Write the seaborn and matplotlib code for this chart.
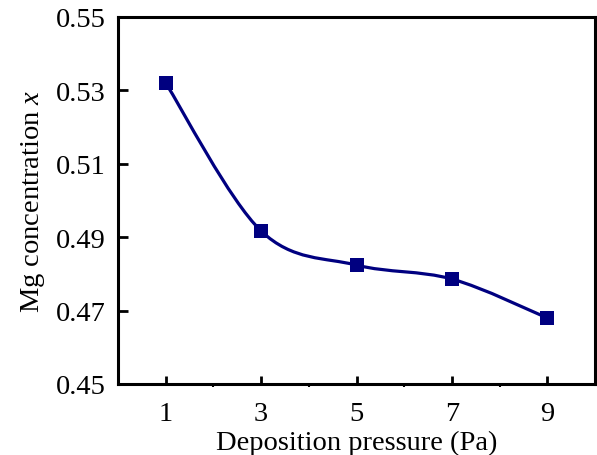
import numpy as np
import pandas as pd
import matplotlib
matplotlib.use("Agg")
import matplotlib.pyplot as plt
from matplotlib.path import Path
from matplotlib.patches import PathPatch
from matplotlib.ticker import FixedLocator
import seaborn as sns

pressure = [1, 3, 5, 7, 9]
mg_conc = [0.532, 0.4917, 0.4824, 0.4786, 0.468]
x_ticks = [1, 3, 5, 7, 9]
y_ticks = [0.45, 0.47, 0.49, 0.51, 0.53, 0.55]

NAVY = "#000080"


def smooth_path(xs, ys):
    # excel-like smoothed line: cubic bezier with catmull-rom control points
    pts = np.column_stack([xs, ys]).astype(float)
    verts = [pts[0]]
    codes = [Path.MOVETO]
    n = len(pts)
    for i in range(n - 1):
        p0 = pts[i - 1] if i > 0 else pts[i]
        p1 = pts[i]
        p2 = pts[i + 1]
        p3 = pts[i + 2] if i + 2 < n else pts[i + 1]
        c1 = p1 + (p2 - p0) / 6.0
        c2 = p2 - (p3 - p1) / 6.0
        verts += [c1, c2, p2]
        codes += [Path.CURVE4] * 3
    return Path(verts, codes)


def main():
    sns.set_theme(style="ticks")
    plt.rcParams["font.family"] = ["Liberation Serif", "DejaVu Serif"]
    plt.rcParams["mathtext.fontset"] = "custom"
    plt.rcParams["mathtext.it"] = "Liberation Serif:italic"
    plt.rcParams["mathtext.rm"] = "Liberation Serif"

    df = pd.DataFrame({"pressure": pressure, "mg": mg_conc})

    fig = plt.figure(figsize=(5.97, 4.56), dpi=100)
    ax = fig.add_axes([118 / 597, 1 - 385 / 456, 477 / 597, 367 / 456])

    ax.add_patch(PathPatch(smooth_path(df["pressure"], df["mg"]),
                           facecolor="none", edgecolor=NAVY, lw=2.3, zorder=2))
    sns.scatterplot(data=df, x="pressure", y="mg", marker="s", s=110,
                    color=NAVY, edgecolor=NAVY, linewidth=0, ax=ax, zorder=3)

    ax.set_xlim(0, 10)
    ax.set_ylim(0.45, 0.55)
    ax.set_xticks(x_ticks)
    ax.set_yticks(y_ticks)
    ax.set_yticklabels(["{:.2f}".format(v) for v in y_ticks])
    ax.xaxis.set_minor_locator(FixedLocator([2, 4, 6, 8]))

    fs = 20.5
    ax.tick_params(axis="both", which="major", direction="in", width=2,
                   labelsize=fs, colors="black")
    ax.tick_params(axis="x", which="major", length=5.5, pad=12)
    ax.tick_params(axis="y", which="major", length=7.5, pad=9)
    ax.tick_params(axis="x", which="minor", direction="out", length=2.5,
                   width=1.5, color="black")
    ax.tick_params(axis="y", which="minor", left=False)

    for sp in ax.spines.values():
        sp.set_visible(True)
        sp.set_linewidth(2.2)
        sp.set_color("black")

    ax.set_xlabel("Deposition pressure (Pa)", fontsize=fs, labelpad=3,
                  color="black")
    ax.set_ylabel("Mg concentration $x$", fontsize=fs, labelpad=6,
                  color="black")

    fig.savefig("out.png", dpi=100)
    plt.close(fig)


if __name__ == "__main__":
    main()
